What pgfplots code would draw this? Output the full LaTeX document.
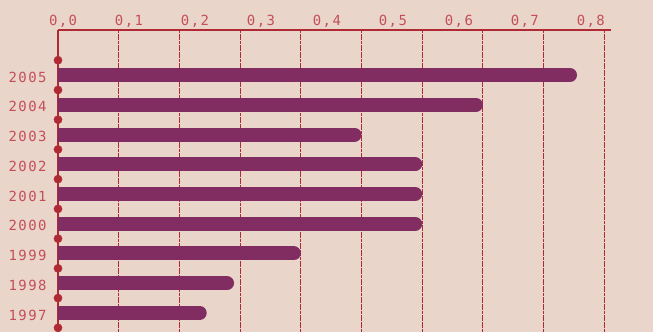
\documentclass[border=0pt]{standalone}
\usepackage{pgfplots}
\pgfplotsset{compat=1.18}
\usepackage{fontspec}
\newfontfamily\lblfont[LetterSpace=10]{DejaVu Sans Mono}
\definecolor{bg}{HTML}{EAD5CB}
\definecolor{barc}{HTML}{822D61}
\definecolor{axred}{HTML}{B02A36}
\definecolor{labred}{HTML}{C44E58}
\begin{document}
\begin{tikzpicture}
\fill[bg] (-58bp,0) rectangle (595bp,332bp);
\begin{axis}[
  scale only axis,
  width=553bp, height=301.5bp,
  xmin=0, xmax=0.911,
  ymin=-0.64, ymax=9.5,
  axis x line=top, axis y line=left,
  axis line style={-, draw=axred, line width=2bp},
  xtick={0.0066,0.1153,0.2240,0.3327,0.4414,0.5501,0.6588,0.7675,0.8762},
  xticklabels={{0,0},{0,1},{0,2},{0,3},{0,4},{0,5},{0,6},{0,7},{0,8}},
  ytick={0,1,2,3,4,5,6,7,8},
  yticklabels={1997,1998,1999,2000,2001,2002,2003,2004,2005},
  major tick length=0pt,
  tick label style={font=\lblfont\fontsize{14}{16}\selectfont, text=labred},
  xticklabel style={yshift=0bp, xshift=1bp},
  yticklabel style={xshift=-8bp, yshift=-2bp},
  extra x ticks={0.1,0.2,0.3,0.4,0.5,0.6,0.7,0.8,0.9},
  extra x tick labels={},
  extra x tick style={grid=major, major grid style={draw=axred, line width=0.9bp, dash pattern=on 3bp off 0.6bp}},
  clip marker paths=false,
]
\addplot[xcomb, draw=barc, line width=14bp, line cap=round]
  table[x expr=\thisrow{v}-0.0115, y=y] {
  y v
  0 0.245
  1 0.29
  2 0.40
  3 0.60
  4 0.60
  5 0.60
  6 0.50
  7 0.70
  8 0.855
};
\addplot[only marks, mark=*, mark size=4.1bp, color=axred]
  coordinates {(0,-0.5) (0,0.5) (0,1.5) (0,2.5) (0,3.5) (0,4.5) (0,5.5) (0,6.5) (0,7.5) (0,8.5)};
\coordinate (bl) at (rel axis cs:0,0);
\coordinate (tr) at (rel axis cs:1,1);
\node[anchor=south, font=\lblfont\fontsize{14}{16}\selectfont, text=labred, inner sep=0.333em, xshift=1bp] at (axis cs:0.9849,9.5) {0,9};
\end{axis}
\pgfresetboundingbox
\path ([xshift=-58bp]bl) rectangle ([xshift=42bp,yshift=30.5bp]tr);
\end{tikzpicture}
\end{document}
